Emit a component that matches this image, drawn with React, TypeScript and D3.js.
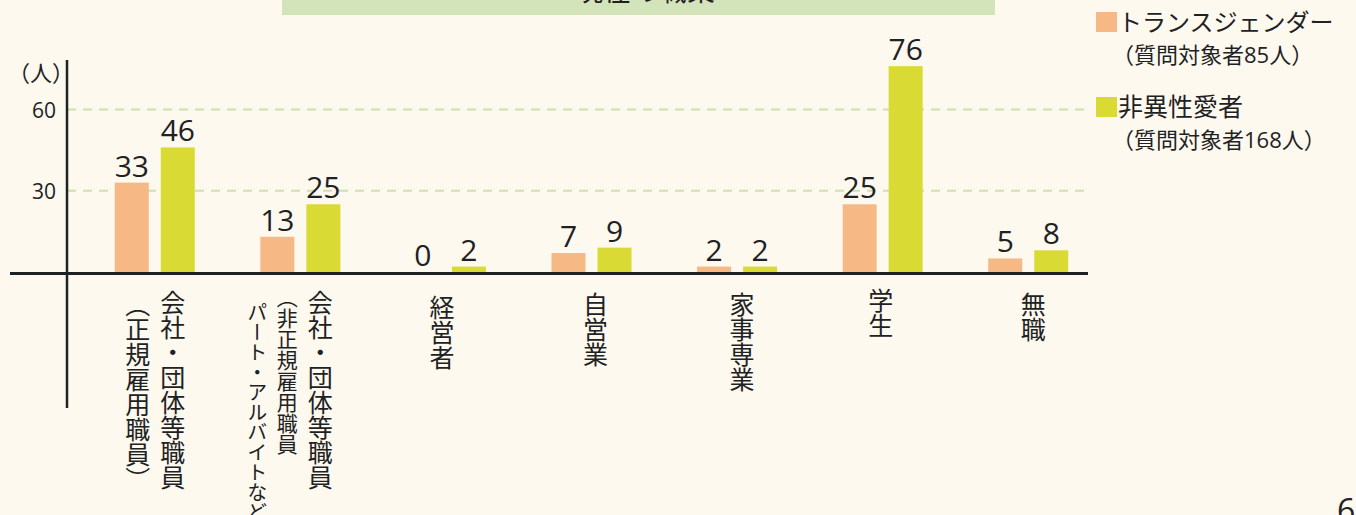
import * as React from "react";
import { useEffect, useRef } from "react";
import * as d3 from "d3";

// 職業カテゴリ（縦書きの列ごと）
const categories = ["会社員正規", "会社員非正規", "経営者", "自営業", "家事専業", "学生", "無職"];
const categoryColumns = [
  ["会社・団体等職員", "（正規雇用職員）"],
  ["会社・団体等職員", "（非正規雇用職員", "パート・アルバイトなど）"],
  ["経営者"],
  ["自営業"],
  ["家事専業"],
  ["学生"],
  ["無職"],
];
const transValues = [33, 13, 0, 7, 2, 25, 5];
const nonHeteroValues = [46, 25, 2, 9, 2, 76, 8];
const yTicks = [30, 60];
const seriesNames = ["トランスジェンダー", "非異性愛者"];
const seriesNotes = ["（質問対象者85人）", "（質問対象者168人）"];

const W = 1356;
const H = 515;
const FONT = "'Noto Sans CJK JP', 'Noto Sans', sans-serif";
const NUM_FONT = "'Open Sans', 'Noto Sans CJK JP', sans-serif";
const INK = "#1e2224";
const COLORS = ["#f6b884", "#d9da34"];

export default function App() {
  const ref = useRef<SVGSVGElement | null>(null);

  useEffect(() => {
    const svg = d3.select(ref.current);
    svg.selectAll("*").remove();

    const x = d3.scaleBand<string>().domain(categories).range([82, 1101]);
    const y = d3.scaleLinear().domain([0, 60]).range([272, 109.5]);
    const barW = 34;
    const gap = 6;

    svg.append("rect").attr("width", W).attr("height", H).attr("fill", "#fdf9ee");

    // title band (cut off at top)
    svg.append("rect").attr("x", 282).attr("y", 0).attr("width", 713).attr("height", 15).attr("fill", "#d3e4bb");
    svg.append("text")
      .attr("x", 645).attr("y", 1)
      .attr("text-anchor", "middle")
      .attr("font-size", 28)
      .attr("fill", INK)
      .text("現在の職業");

    // grid
    svg.selectAll(".grid").data(yTicks).enter().append("line")
      .attr("x1", 67).attr("x2", 1090)
      .attr("y1", d => y(d)).attr("y2", d => y(d))
      .attr("stroke", "#cfe0b0").attr("stroke-width", 2)
      .attr("stroke-dasharray", "9 7");

    svg.selectAll(".tick").data(yTicks).enter().append("text")
      .attr("x", 56).attr("y", d => y(d) + 8)
      .attr("text-anchor", "end")
      .attr("font-size", 21)
      .attr("font-family", NUM_FONT)
      .attr("fill", INK)
      .text(d => d);
    svg.append("text").attr("x", 8).attr("y", 81).attr("font-size", 22).attr("fill", INK).text("（人）");

    // bars
    const groups = svg.selectAll(".grp").data(categories).enter().append("g")
      .attr("transform", d => `translate(${x(d)! + x.bandwidth() / 2},0)`);

    [transValues, nonHeteroValues].forEach((vals, s) => {
      const bx = s === 0 ? -gap - barW : gap;
      groups.append("rect")
        .attr("x", bx).attr("width", barW)
        .attr("y", (d, i) => y(vals[i]))
        .attr("height", (d, i) => y(0) - y(vals[i]))
        .attr("fill", COLORS[s]);
      groups.append("text")
        .attr("x", bx + barW / 2)
        .attr("y", (d, i) => y(vals[i]) - 6)
        .attr("text-anchor", "middle")
        .attr("font-size", 30)
        .attr("font-family", NUM_FONT)
        .attr("fill", INK)
        .text((d, i) => vals[i]);
    });

    // vertical category labels
    const colX = [[18, -17], [20, -13, -43], [-4], [4], [5], [-2], [5]];
    const colSize = [[25, 25], [25, 21, 20], [25], [25], [25], [25], [25]];
    const colTop = [[290, 292], [290, 287, 302], [295], [292], [292], [288], [292]];
    groups.each(function (d, i) {
      const g = d3.select(this);
      categoryColumns[i].forEach((col, c) => {
        g.append("text")
          .attr("x", colX[i][c])
          .attr("y", colTop[i][c])
          .style("writing-mode", "vertical-rl")
          .attr("font-size", colSize[i][c])
          .attr("fill", INK)
          .text(col);
      });
    });

    // axes
    svg.append("line").attr("x1", 67).attr("x2", 67).attr("y1", 60).attr("y2", 408)
      .attr("stroke", INK).attr("stroke-width", 2.5);
    svg.append("line").attr("x1", 10).attr("x2", 1088).attr("y1", 273.5).attr("y2", 273.5)
      .attr("stroke", INK).attr("stroke-width", 3);

    // legend
    const legY = [12, 97];
    seriesNames.forEach((name, s) => {
      svg.append("rect").attr("x", 1096).attr("y", legY[s]).attr("width", 21).attr("height", 20).attr("fill", COLORS[s]);
      svg.append("text").attr("x", 1118).attr("y", legY[s] + 19).attr("font-size", s === 0 ? 24 : 25).attr("fill", INK).text(name);
      svg.append("text").attr("x", 1112).attr("y", legY[s] + 51).attr("font-size", 22)
        .attr("font-family", NUM_FONT).attr("fill", INK).text(seriesNotes[s]);
    });

    // page number
    svg.append("text").attr("x", 1337).attr("y", 522).attr("font-size", 32)
      .attr("font-family", NUM_FONT).attr("fill", INK).text("6");
  }, []);

  return (
    <svg
      ref={ref}
      width={W}
      height={H}
      style={{ position: "absolute", left: 0, top: 0, fontFamily: FONT }}
    />
  );
}
